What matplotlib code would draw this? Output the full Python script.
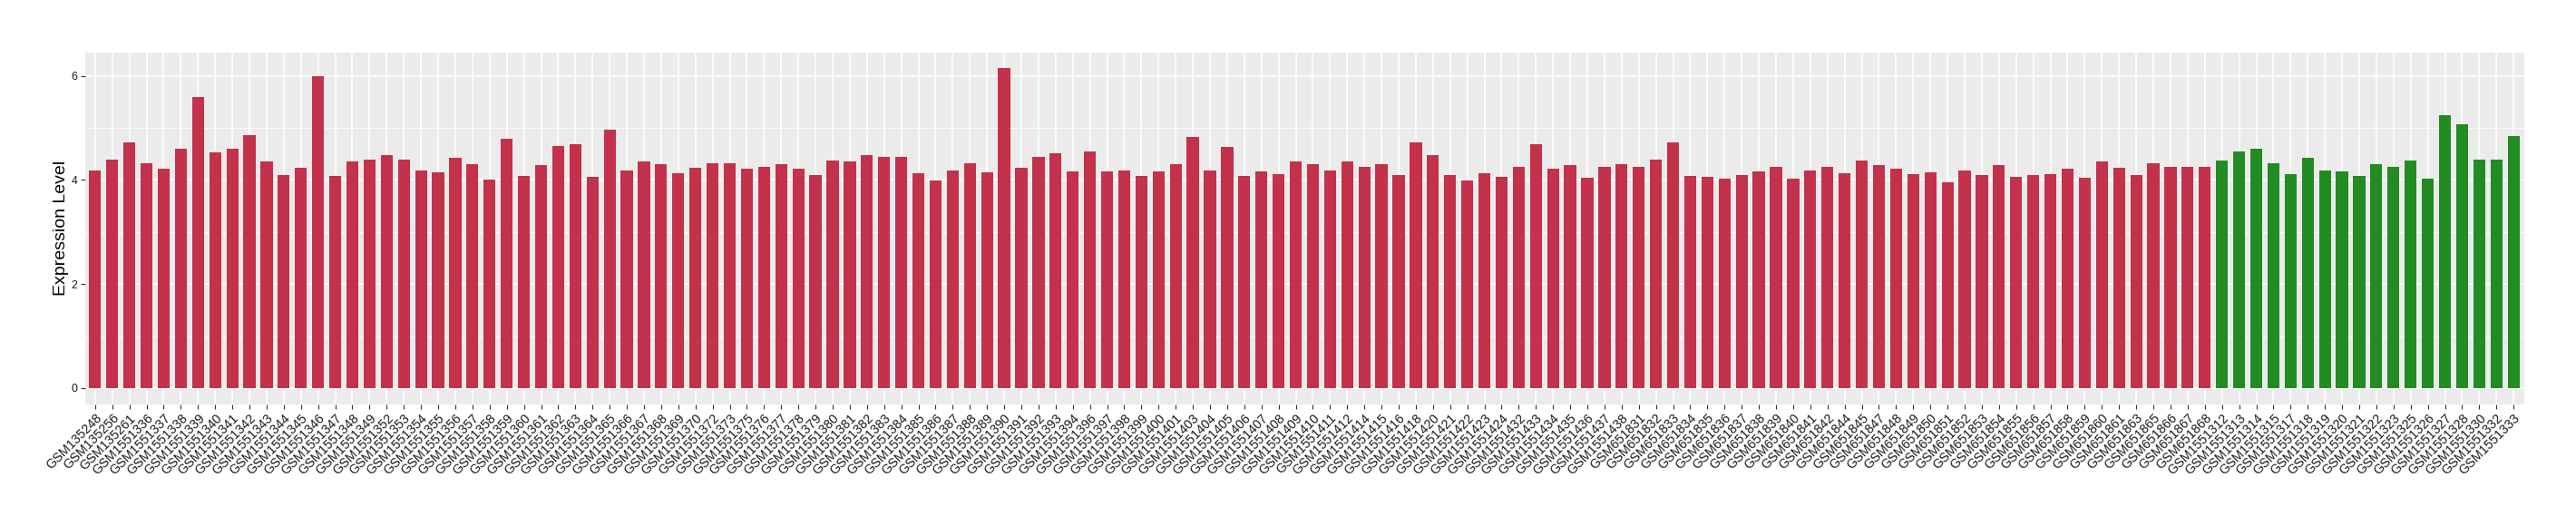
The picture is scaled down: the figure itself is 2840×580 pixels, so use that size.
import matplotlib
matplotlib.use("Agg")
import matplotlib.pyplot as plt
import numpy as np

red_samples = [
    "GSM135248", "GSM135256", "GSM135261", "GSM1551336", "GSM1551337", "GSM1551338",
    "GSM1551339", "GSM1551340", "GSM1551341", "GSM1551342", "GSM1551343", "GSM1551344",
    "GSM1551345", "GSM1551346",
    "GSM1551347", "GSM1551348", "GSM1551349", "GSM1551352", "GSM1551353", "GSM1551354",
    "GSM1551355", "GSM1551356", "GSM1551357", "GSM1551358", "GSM1551359", "GSM1551360",
    "GSM1551361", "GSM1551362", "GSM1551363", "GSM1551364", "GSM1551365", "GSM1551366",
    "GSM1551367", "GSM1551368", "GSM1551369", "GSM1551370", "GSM1551372", "GSM1551373",
    "GSM1551375", "GSM1551376", "GSM1551377", "GSM1551378", "GSM1551379", "GSM1551380",
    "GSM1551381", "GSM1551382", "GSM1551383", "GSM1551384", "GSM1551385", "GSM1551386",
    "GSM1551387", "GSM1551388", "GSM1551389", "GSM1551390", "GSM1551391", "GSM1551392",
    "GSM1551393", "GSM1551394", "GSM1551396", "GSM1551397", "GSM1551398", "GSM1551399",
    "GSM1551400", "GSM1551401", "GSM1551403", "GSM1551404", "GSM1551405", "GSM1551406",
    "GSM1551407", "GSM1551408", "GSM1551409", "GSM1551410", "GSM1551411", "GSM1551412",
    "GSM1551414", "GSM1551415", "GSM1551416", "GSM1551418", "GSM1551420", "GSM1551421",
    "GSM1551422", "GSM1551423", "GSM1551424", "GSM1551432", "GSM1551433", "GSM1551434",
    "GSM1551435", "GSM1551436", "GSM1551437", "GSM1551438", "GSM651831", "GSM651832",
    "GSM651833", "GSM651834", "GSM651835", "GSM651836", "GSM651837", "GSM651838",
    "GSM651839", "GSM651840", "GSM651841", "GSM651842", "GSM651844", "GSM651845",
    "GSM651847", "GSM651848", "GSM651849", "GSM651850", "GSM651851", "GSM651852",
    "GSM651853", "GSM651854", "GSM651855", "GSM651856", "GSM651857", "GSM651858",
    "GSM651859", "GSM651860", "GSM651861", "GSM651863", "GSM651865", "GSM651866",
    "GSM651867", "GSM651868",
]
red_values = [
    4.19, 4.40, 4.73, 4.33, 4.21, 4.60, 5.60, 4.53, 4.60, 4.87, 4.35, 4.09, 4.23, 6.00,
    4.08, 4.35, 4.40, 4.47, 4.40, 4.18, 4.14, 4.42, 4.30, 4.01, 4.80, 4.08, 4.28, 4.65,
    4.68, 4.06, 4.96, 4.18,
    4.35, 4.31, 4.13, 4.23, 4.33, 4.33, 4.21, 4.25, 4.30, 4.21, 4.09, 4.37, 4.35, 4.47,
    4.44, 4.44, 4.13, 3.99,
    4.18, 4.33, 4.14, 6.15, 4.23, 4.44, 4.51, 4.16, 4.54, 4.16, 4.18, 4.08, 4.16, 4.31,
    4.83, 4.18, 4.63, 4.08,
    4.16, 4.11, 4.35, 4.31, 4.19, 4.35, 4.25, 4.31, 4.09, 4.73, 4.47, 4.09, 3.99, 4.13,
    4.06, 4.25, 4.68, 4.21,
    4.28, 4.04, 4.25, 4.30, 4.25, 4.40, 4.72, 4.08, 4.06, 4.02, 4.09, 4.16, 4.26, 4.02,
    4.18, 4.25, 4.13, 4.37,
    4.28, 4.21, 4.11, 4.14, 3.96, 4.18, 4.09, 4.28, 4.06, 4.09, 4.11, 4.21, 4.04, 4.35,
    4.23, 4.09, 4.33, 4.26,
    4.25, 4.25,
]
green_samples = [
    "GSM1551312", "GSM1551313", "GSM1551314", "GSM1551315", "GSM1551317", "GSM1551318",
    "GSM1551319", "GSM1551320", "GSM1551321", "GSM1551322", "GSM1551323", "GSM1551325",
    "GSM1551326", "GSM1551327", "GSM1551328", "GSM1551330", "GSM1551332", "GSM1551333",
]
green_values = [
    4.37, 4.54, 4.60, 4.33, 4.11, 4.42, 4.18, 4.16, 4.08, 4.30, 4.26, 4.37,
    4.02, 5.25, 5.08, 4.40, 4.40, 4.85,
]

RED = "#C3314A"
GREEN = "#228B22"

plt.rcParams["font.family"] = ["Liberation Sans", "DejaVu Sans"]

labels = red_samples + green_samples
values = red_values + green_values
colors = [RED] * len(red_values) + [GREEN] * len(green_values)
n = len(labels)
x = np.arange(n)

W, H = 2840, 580
left, right, top, bottom = 93.5, 2782.5, 57.5, 445.5
fig = plt.figure(figsize=(W / 100, H / 100), dpi=100)
ax = fig.add_axes([left / W, 1 - bottom / H, (right - left) / W, (bottom - top) / H])
ax.set_facecolor("#EBEBEB")
ax.bar(x, values, width=0.7, color=colors, zorder=3)

vmax = max(values)
ax.set_ylim(-0.05 * vmax, 1.05 * vmax)
ax.set_xlim(-0.6, n - 1 + 0.6)

ax.set_yticks([0, 2, 4, 6])
ax.set_yticks([1, 3, 5], minor=True)
ax.set_xticks(x)
ax.set_xticklabels(labels, rotation=45, ha="right", va="top", rotation_mode="anchor",
                   fontsize=10.3, color="#1A1A1A")
ax.tick_params(axis="y", labelsize=8.9, labelcolor="#1A1A1A")
ax.tick_params(axis="both", which="major", length=3.6, width=0.8, color="#333333", pad=2.5)
ax.tick_params(axis="y", which="minor", length=0)

ax.grid(True, which="major", color="white", linewidth=1.1, zorder=0)
ax.grid(True, which="minor", axis="y", color="white", linewidth=0.55, zorder=0)
ax.set_axisbelow(True)
for s in ax.spines.values():
    s.set_visible(False)

ax.set_ylabel("Expression Level", fontsize=14, color="black", labelpad=1.5)

fig.savefig("out.png", dpi=100)
